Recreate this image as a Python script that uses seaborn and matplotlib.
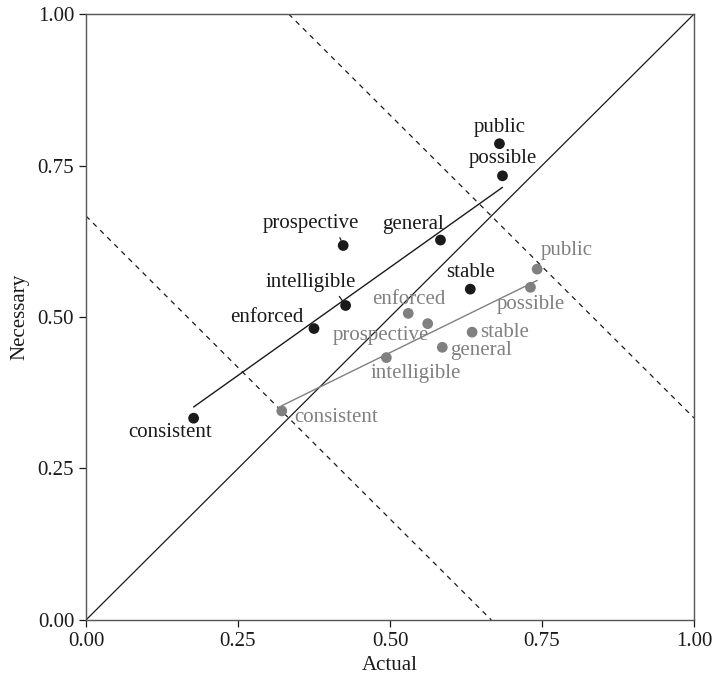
import matplotlib
matplotlib.use("Agg")
import matplotlib.pyplot as plt
import seaborn as sns
import pandas as pd
import numpy as np

# ---- data ----
words = ["public", "possible", "prospective", "general", "stable",
         "intelligible", "enforced", "consistent"]
black_actual = [0.680, 0.685, 0.423, 0.583, 0.632, 0.427, 0.375, 0.177]
black_necessary = [0.786, 0.733, 0.618, 0.627, 0.546, 0.519, 0.481, 0.333]
gray_actual = [0.742, 0.731, 0.562, 0.586, 0.635, 0.494, 0.530, 0.322]
gray_necessary = [0.579, 0.549, 0.489, 0.450, 0.475, 0.433, 0.506, 0.345]

ticks = [0.00, 0.25, 0.50, 0.75, 1.00]
tick_labels = ["0.00", "0.25", "0.50", "0.75", "1.00"]
lower_sum = 2 / 3   # dashed line x + y = 2/3
upper_sum = 4 / 3   # dashed line x + y = 4/3

# label positions (text position, alignment)
black_label_pos = {
    "public": (0.680, 0.813, "center"),
    "possible": (0.685, 0.761, "center"),
    "prospective": (0.370, 0.654, "center"),
    "general": (0.537, 0.652, "center"),
    "stable": (0.632, 0.574, "center"),
    "intelligible": (0.370, 0.557, "center"),
    "enforced": (0.298, 0.499, "center"),
    "consistent": (0.138, 0.309, "center"),
}
gray_label_pos = {
    "public": (0.791, 0.610, "center"),
    "possible": (0.731, 0.520, "center"),
    "enforced": (0.531, 0.529, "center"),
    "prospective": (0.485, 0.470, "center"),
    "stable": (0.648, 0.475, "left"),
    "general": (0.649, 0.444, "center"),
    "intelligible": (0.543, 0.406, "center"),
    "consistent": (0.342, 0.334, "left"),
}

black_df = pd.DataFrame({"word": words, "Actual": black_actual, "Necessary": black_necessary})
gray_df = pd.DataFrame({"word": words, "Actual": gray_actual, "Necessary": gray_necessary})

sns.set_style("ticks")
plt.rcParams["font.family"] = ["Liberation Serif", "DejaVu Serif"]

BLACK = "#1a1a1a"
GRAY = "#808080"
FS = 15

fig = plt.figure(figsize=(7.13, 6.81), dpi=100)
ax = fig.add_axes([0.1206, 0.0896, 0.8528, 0.8898])

# reference lines
ax.axline((0, 0), slope=1, color=BLACK, lw=0.9, zorder=1)
ax.axline((0, lower_sum), slope=-1, color=BLACK, lw=0.9, ls=(0, (4, 4)), zorder=1)
ax.axline((0, upper_sum), slope=-1, color=BLACK, lw=0.9, ls=(0, (4, 4)), zorder=1)

# regression lines
sns.regplot(data=black_df, x="Actual", y="Necessary", scatter=False, ci=None,
            truncate=True, color=BLACK, line_kws={"lw": 1.0}, ax=ax)
sns.regplot(data=gray_df, x="Actual", y="Necessary", scatter=False, ci=None,
            truncate=True, color=GRAY, line_kws={"lw": 1.0}, ax=ax)

# points
sns.scatterplot(data=black_df, x="Actual", y="Necessary", color=BLACK, s=60,
                edgecolor="none", ax=ax, zorder=3)
sns.scatterplot(data=gray_df, x="Actual", y="Necessary", color=GRAY, s=60,
                edgecolor="none", ax=ax, zorder=3)

# labels
leader_relpos = {"prospective": (0.78, 0.0), "intelligible": (0.78, 0.0)}
for w, x, y in zip(words, black_actual, black_necessary):
    tx, ty, ha = black_label_pos[w]
    if w in leader_relpos:
        ax.annotate(w, xy=(x, y), xytext=(tx, ty), ha=ha, va="center",
                    fontsize=FS, color=BLACK,
                    arrowprops=dict(arrowstyle="-", color=BLACK, lw=0.9,
                                    relpos=leader_relpos[w],
                                    shrinkA=1, shrinkB=4))
    else:
        ax.text(tx, ty, w, ha=ha, va="center", fontsize=FS, color=BLACK)

for w, x, y in zip(words, gray_actual, gray_necessary):
    tx, ty, ha = gray_label_pos[w]
    ax.text(tx, ty, w, ha=ha, va="center", fontsize=FS, color=GRAY)

ax.set_xlim(0, 1)
ax.set_ylim(0, 1)
ax.set_xticks(ticks)
ax.set_xticklabels(tick_labels)
ax.set_yticks(ticks)
ax.set_yticklabels(tick_labels)
ax.tick_params(direction="out", length=5, width=0.9, labelsize=FS, colors=BLACK)
for sp in ax.spines.values():
    sp.set_visible(True)
    sp.set_color("#555555")
    sp.set_linewidth(1.0)
ax.set_xlabel("Actual", fontsize=FS, color=BLACK, labelpad=4)
ax.set_ylabel("Necessary", fontsize=FS, color=BLACK, labelpad=6)

fig.savefig("out.png", dpi=100)
